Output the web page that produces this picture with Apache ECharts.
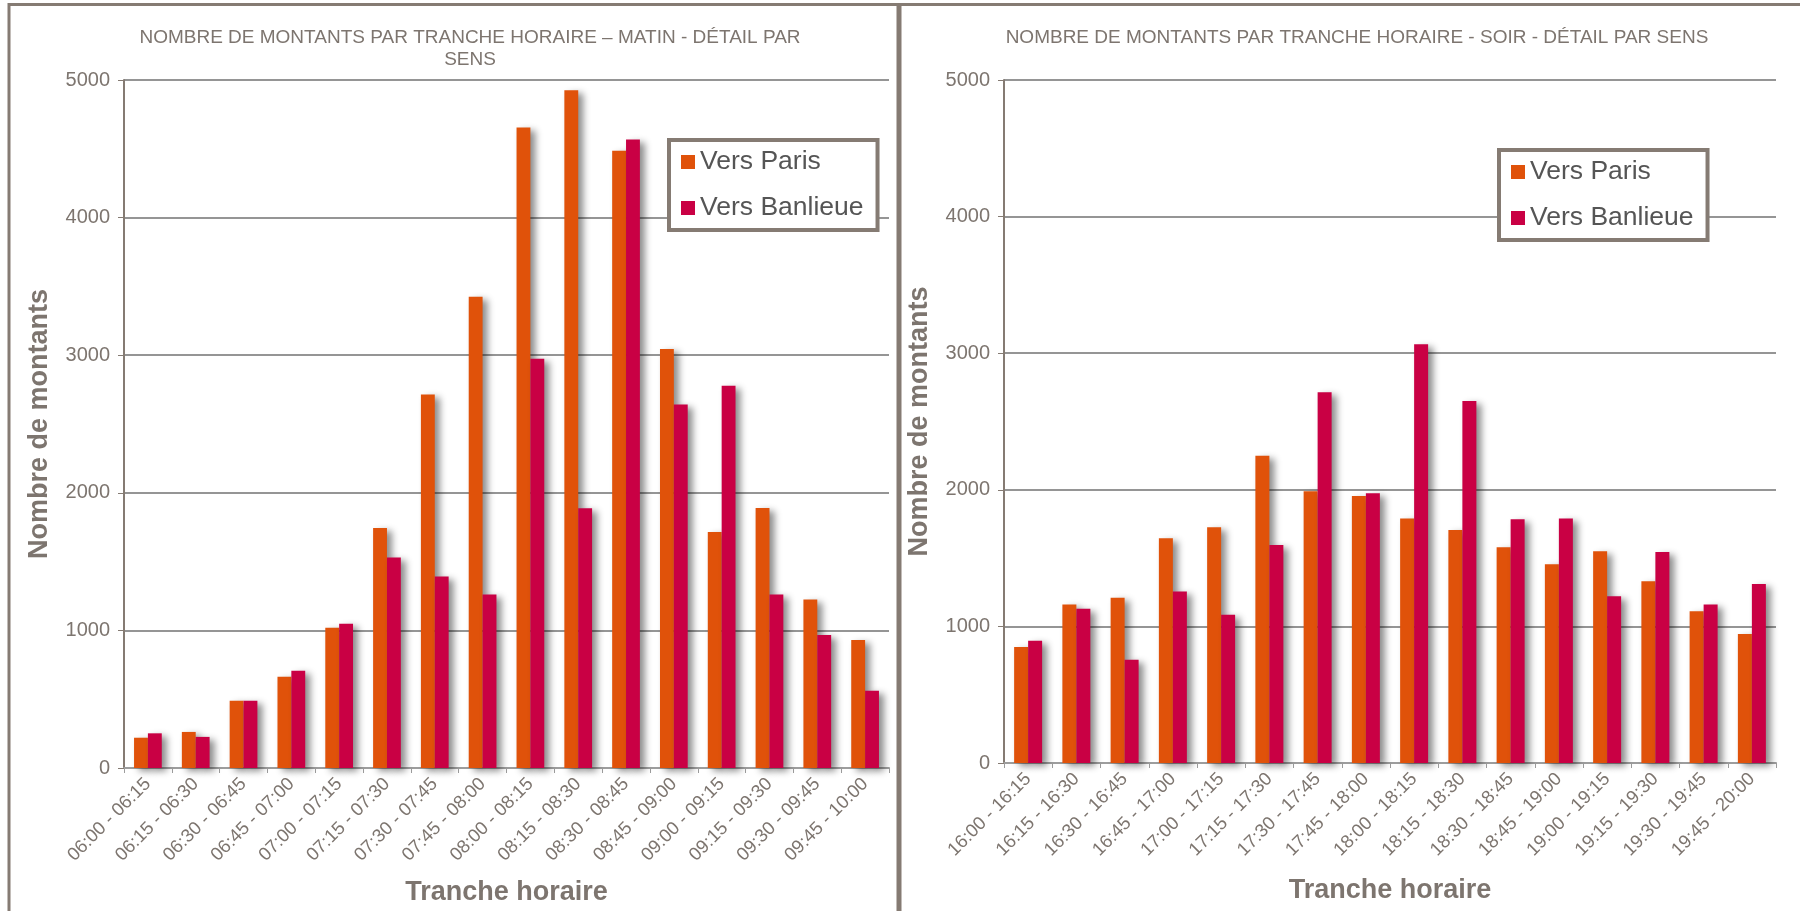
<!DOCTYPE html>
<html>
<head>
<meta charset="utf-8">
<title>Nombre de montants par tranche horaire</title>
<script src="https://cdn.jsdelivr.net/npm/echarts@6/dist/echarts.min.js"></script>
<style>
  html, body { margin: 0; padding: 0; background: #ffffff; }
  #chart { width: 1800px; height: 911px; }
</style>
</head>
<body>
<div id="chart"></div>
<script>
// Quarter-hour slots, morning and evening
const morningSlots = ['06:00 - 06:15', '06:15 - 06:30', '06:30 - 06:45', '06:45 - 07:00',
  '07:00 - 07:15', '07:15 - 07:30', '07:30 - 07:45', '07:45 - 08:00',
  '08:00 - 08:15', '08:15 - 08:30', '08:30 - 08:45', '08:45 - 09:00',
  '09:00 - 09:15', '09:15 - 09:30', '09:30 - 09:45', '09:45 - 10:00'];
const eveningSlots = ['16:00 - 16:15', '16:15 - 16:30', '16:30 - 16:45', '16:45 - 17:00',
  '17:00 - 17:15', '17:15 - 17:30', '17:30 - 17:45', '17:45 - 18:00',
  '18:00 - 18:15', '18:15 - 18:30', '18:30 - 18:45', '18:45 - 19:00',
  '19:00 - 19:15', '19:15 - 19:30', '19:30 - 19:45', '19:45 - 20:00'];

// Boardings per slot and direction
const morningParis = [220, 262, 488, 663, 1020, 1745, 2715, 3425, 4655, 4925, 4485, 3045, 1715, 1890, 1225, 930];
const morningBanlieue = [252, 226, 488, 706, 1049, 1529, 1391, 1260, 2975, 1888, 4568, 2642, 2778, 1260, 966, 561];
const eveningParis = [850, 1160, 1210, 1645, 1725, 2250, 1990, 1955, 1790, 1705, 1580, 1455, 1550, 1330, 1110, 945];
const eveningBanlieue = [895, 1130, 755, 1255, 1085, 1595, 2715, 1975, 3065, 2650, 1785, 1790, 1220, 1545, 1160, 1310];

const yTicks = { min: 0, max: 5000, interval: 1000 };
const seriesNames = ['Vers Paris', 'Vers Banlieue'];
const titleMorning = 'NOMBRE DE MONTANTS PAR TRANCHE HORAIRE \u2013 MATIN - DÉTAIL PAR\nSENS';
const titleEvening = 'NOMBRE DE MONTANTS PAR TRANCHE HORAIRE - SOIR - DÉTAIL PAR SENS';
const xName = 'Tranche horaire';
const yName = 'Nombre de montants';

const FONT = "'Liberation Sans', Arial, sans-serif";
const TEXT_GREY = '#7d756f';
const FRAME = '#857b73';
const ORANGE = '#e0520a';
const CRIMSON = '#c90044';

function xAxisFor(gridIndex, cats, gap) {
  return {
    type: 'category', gridIndex, data: cats,
    boundaryGap: true,
    axisLine: { show: true, lineStyle: { color: '#9d9d9d', width: 2 } },
    axisTick: { show: true, length: 5, lineStyle: { color: '#9d9d9d', width: 1 } },
    axisLabel: { rotate: 45, fontSize: 18.5, color: TEXT_GREY, fontFamily: FONT, margin: 13, interval: 0 },
    name: xName, nameLocation: 'middle', nameGap: gap,
    nameTextStyle: { fontSize: 27, fontWeight: 'bold', color: TEXT_GREY, fontFamily: FONT }
  };
}

function yAxisFor(gridIndex, gap) {
  return {
    type: 'value', gridIndex,
    min: yTicks.min, max: yTicks.max, interval: yTicks.interval,
    axisLine: { show: true, lineStyle: { color: FRAME, width: 2 } },
    axisTick: { show: true, length: 6, lineStyle: { color: FRAME, width: 1 } },
    axisLabel: { fontSize: 20, color: TEXT_GREY, fontFamily: FONT, margin: 14,
      formatter: (v) => String(v) },
    splitLine: { show: true, lineStyle: { color: '#959595', width: 2 } },
    name: yName, nameLocation: 'middle', nameGap: gap, nameRotate: 90,
    nameTextStyle: { fontSize: 27, fontWeight: 'bold', color: TEXT_GREY, fontFamily: FONT }
  };
}

function barSeries(name, idx, values, color) {
  return {
    name, type: 'bar', xAxisIndex: idx, yAxisIndex: idx, data: values,
    barGap: '0%', barCategoryGap: '42%',
    itemStyle: {
      color,
      shadowColor: 'rgba(0,0,0,0.45)', shadowBlur: 7, shadowOffsetX: 5, shadowOffsetY: 3
    },
    emphasis: { disabled: true }
  };
}

function legendAt(left, top) {
  return {
    data: seriesNames, orient: 'vertical', left, top,
    icon: 'rect', itemWidth: 14, itemHeight: 14, itemGap: 16,
    padding: [7, 14, 7, 12],
    borderColor: FRAME, borderWidth: 4, backgroundColor: '#ffffff',
    textStyle: { fontSize: 26.5, color: '#555555', fontFamily: FONT, lineHeight: 30 },
    selectedMode: false
  };
}

const chart = echarts.init(document.getElementById('chart'), null, { renderer: 'canvas' });
chart.setOption({
  backgroundColor: '#ffffff',
  animation: false,
  textStyle: { fontFamily: FONT },
  title: [
    { text: titleMorning, left: 465, top: 22, textAlign: 'center',
      textStyle: { fontSize: 19, fontWeight: 'normal', color: TEXT_GREY, fontFamily: FONT, lineHeight: 22, align: 'center' } },
    { text: titleEvening, left: 1352, top: 22, textAlign: 'center',
      textStyle: { fontSize: 19, fontWeight: 'normal', color: TEXT_GREY, fontFamily: FONT, lineHeight: 22 } }
  ],
  graphic: [
    { type: 'rect', z: -1, shape: { x: 9, y: 4.5, width: 889, height: 920 },
      style: { fill: null, stroke: FRAME, lineWidth: 3 } },
    { type: 'rect', z: -1, shape: { x: 900, y: 4.5, width: 930, height: 920 },
      style: { fill: null, stroke: FRAME, lineWidth: 3 } }
  ],
  legend: [legendAt(669, 140), legendAt(1499, 150)],
  grid: [
    { left: 124, right: 911, top: 80, bottom: 140 },
    { left: 1004, right: 24, top: 80, bottom: 148 }
  ],
  xAxis: [xAxisFor(0, morningSlots, 111), xAxisFor(1, eveningSlots, 114)],
  yAxis: [yAxisFor(0, 71), yAxisFor(1, 71)],
  series: [
    barSeries(seriesNames[0], 0, morningParis, ORANGE),
    barSeries(seriesNames[1], 0, morningBanlieue, CRIMSON),
    barSeries(seriesNames[0], 1, eveningParis, ORANGE),
    barSeries(seriesNames[1], 1, eveningBanlieue, CRIMSON)
  ]
});
</script>
</body>
</html>
